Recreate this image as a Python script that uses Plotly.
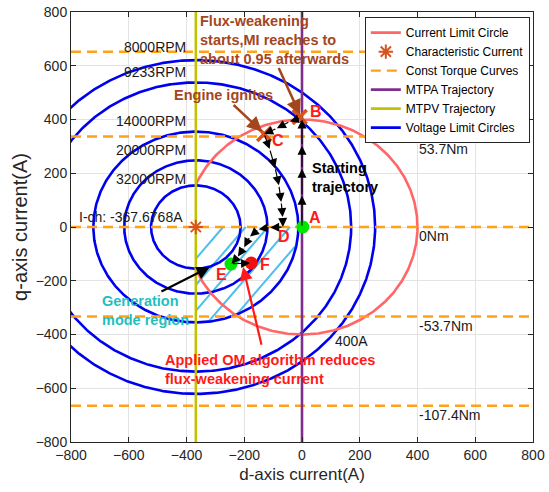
import numpy as np
import plotly.graph_objects as go

# ---------------- data ----------------
i_ch = -367.6768          # characteristic current (A)
i_max = 400               # current limit (A)

speed_labels = ["8000RPM", "9233RPM", "14000RPM", "20000RPM", "32000RPM"]
voltage_radii = [621, 538, 355, 248, 155]
speed_label_y = [668, 575, 396, 288, 179]

torque_iq = [652, 337, 0, -333, -665]
torque_labels = ["53.7Nm", "0Nm", "-53.7Nm", "-107.4Nm"]
torque_label_y = [291, -34, -370, -698]

# operating trajectory (id, iq) in A
start_id = [0, 0, 0, 0, 0]
start_iq = [0, 116, 217, 302, 400]
bc_id = [-5, -42, -87, -131]
bc_iq = [405, 393, 367, 346]
cd_id = [-131, -112, -93, -80, -72, -67, -66]
cd_iq = [346, 290, 220, 155, 93, 37, 0]
de_id = [-66, -110, -150, -180, -200, -222, -244]
de_iq = [0, -2, -8, -35, -75, -110, -137]
ef_id = [-244, -180]
ef_iq = [-137, -134]

pt_names = ["A", "B", "C", "D", "E", "F"]
pt_label_id = [45, 48, -83, -62, -280, -128]
pt_label_iq = [37, 429, 321, -34, -176, -138]
green_id = [3, -246]
green_iq = [0, -138]
red_id = [-176]
red_iq = [-134]
cross_id = [-8, -131]
cross_iq = [409, 346]

# ---------------- style ----------------
FONT = "Arial, Liberation Sans, sans-serif"
BLUE = "#0000F0"
PINK = "#FF6666"
ORANGE = "#FFA11A"
PURPLE = "#7E2F8E"
OLIVE = "#C2C200"
RUST = "#D95319"
BROWN = "#A3461E"
TEAL = "#1FBFBF"
RED = "#FF1A1A"
HATCH = "#4DBEEE"

fig = go.Figure()

# hatched generation-mode region: inside the 14000RPM circle, right of MTPV, iq<0
hatch_slope = 1.25
hatch_x0 = [-273, -195, -118, -42, 34]
r_gen = voltage_radii[2]
ys = np.linspace(-420, 0, 4001)
for c in hatch_x0:
    xs = c + ys / hatch_slope
    inside = (xs >= i_ch) & ((xs - i_ch) ** 2 + ys ** 2 <= r_gen ** 2)
    if inside.any():
        yy = ys[inside]
        xx = xs[inside]
        fig.add_trace(go.Scatter(x=[xx[0], xx[-1]], y=[yy[0], yy[-1]], mode="lines",
                                 line=dict(color=HATCH, width=2), showlegend=False,
                                 hoverinfo="skip"))

# voltage limit circles
th = np.linspace(0, 2 * np.pi, 721)
for k, r in enumerate(voltage_radii):
    fig.add_trace(go.Scatter(x=i_ch + r * np.cos(th), y=r * np.sin(th), mode="lines",
                             line=dict(color=BLUE, width=2.6),
                             name="Voltage Limit Circles", legendrank=6,
                             showlegend=(k == 0)))

# current limit circle (part right of the MTPV line)
a = np.arccos(i_ch / i_max)
tc = np.linspace(-a, a, 500)
fig.add_trace(go.Scatter(x=i_max * np.cos(tc), y=i_max * np.sin(tc), mode="lines",
                         line=dict(color=PINK, width=2.6),
                         name="Current Limit Circle", legendrank=1))

# constant torque curves
for k, iq in enumerate(torque_iq):
    fig.add_trace(go.Scatter(x=[-800, 800], y=[iq, iq], mode="lines",
                             line=dict(color=ORANGE, width=2.4, dash="10px,6px"),
                             name="Const Torque Curves", legendrank=3,
                             showlegend=(k == 0)))

# MTPA and MTPV trajectories
fig.add_trace(go.Scatter(x=[0, 0], y=[-800, 800], mode="lines",
                         line=dict(color=PURPLE, width=2.6),
                         name="MTPA Trajectory", legendrank=4))
fig.add_trace(go.Scatter(x=[i_ch, i_ch], y=[-800, 800], mode="lines",
                         line=dict(color=OLIVE, width=2.6),
                         name="MTPV Trajectory", legendrank=5))

# characteristic current
fig.add_trace(go.Scatter(x=[i_ch], y=[0], mode="markers",
                         marker=dict(symbol="asterisk-open", size=12, color=RUST,
                                     line=dict(color=RUST, width=2)),
                         name="Characteristic Current", legendrank=2))

# operating points
fig.add_trace(go.Scatter(x=cross_id, y=cross_iq, mode="markers",
                         marker=dict(symbol="x-thin-open", size=14, color=RUST,
                                     line=dict(color=RUST, width=3.5)),
                         showlegend=False))
fig.add_trace(go.Scatter(x=green_id, y=green_iq, mode="markers",
                         marker=dict(symbol="circle", size=13, color="#00E600"),
                         showlegend=False))
fig.add_trace(go.Scatter(x=red_id, y=red_iq, mode="markers",
                         marker=dict(symbol="circle", size=13, color="#F01010"),
                         showlegend=False))


def arrow_path(xs, ys, color="black", width=1.2, size=1.5):
    for i in range(len(xs) - 1):
        fig.add_annotation(x=xs[i + 1], y=ys[i + 1], ax=xs[i], ay=ys[i],
                           xref="x", yref="y", axref="x", ayref="y", text="",
                           showarrow=True, arrowhead=2, arrowsize=size,
                           arrowwidth=width, arrowcolor=color, standoff=0)


arrow_path(start_id, start_iq)
arrow_path(bc_id, bc_iq)
arrow_path(cd_id, cd_iq)
arrow_path(de_id, de_iq)
arrow_path(ef_id, ef_iq)

# point letters
for n, x, y in zip(pt_names, pt_label_id, pt_label_iq):
    fig.add_annotation(x=x, y=y, text=f"<b>{n}</b>", showarrow=False,
                       font=dict(family=FONT, size=16, color=RED))

# speed labels
for t, y in zip(speed_labels, speed_label_y):
    fig.add_annotation(x=-395, y=y, text=t, showarrow=False, xanchor="right",
                       font=dict(family=FONT, size=14, color="#1a1a1a"))

# torque labels
for t, y in zip(torque_labels, torque_label_y):
    fig.add_annotation(x=398, y=y, text=t, showarrow=False, xanchor="left",
                       font=dict(family=FONT, size=14, color="#1a1a1a"))

fig.add_annotation(x=107, y=-426, text="400A", showarrow=False, xanchor="left",
                   font=dict(family=FONT, size=14, color="#1a1a1a"))
fig.add_annotation(x=-779, y=37, text=f"I-ch: {i_ch}A", showarrow=False,
                   xanchor="left", font=dict(family=FONT, size=14, color="#1a1a1a"))

# callouts
fig.add_annotation(x=-360, y=694, xanchor="left", showarrow=False, align="left",
                   text="<b>Flux-weakening<br>starts,MI reaches to<br>about 0.95 afterwards</b>",
                   font=dict(family=FONT, size=14.5, color=BROWN))
fig.add_annotation(x=-7, y=418, ax=-83, ay=597, xref="x", yref="y", axref="x",
                   ayref="y", text="", showarrow=True, arrowhead=2, arrowsize=1.2,
                   arrowwidth=2.5, arrowcolor=BROWN, standoff=0)
fig.add_annotation(x=-450, y=493, xanchor="left", showarrow=False,
                   text="<b>Engine ignites</b>",
                   font=dict(family=FONT, size=14.5, color=BROWN))
fig.add_annotation(x=-138, y=355, ax=-242, ay=459, xref="x", yref="y", axref="x",
                   ayref="y", text="", showarrow=True, arrowhead=2, arrowsize=1.2,
                   arrowwidth=2.5, arrowcolor=BROWN, standoff=0)
fig.add_annotation(x=28, y=185, xanchor="left", showarrow=False, align="left",
                   text="<b>Starting<br>trajectory</b>",
                   font=dict(family=FONT, size=14.5, color="black"))
fig.add_annotation(x=-700, y=-312, xanchor="left", showarrow=False, align="left",
                   text="<b>Generation<br>mode region</b>",
                   font=dict(family=FONT, size=14.5, color=TEAL))
fig.add_annotation(x=-319, y=-149, ax=-492, ay=-243, xref="x", yref="y", axref="x",
                   ayref="y", text="", showarrow=True, arrowhead=2, arrowsize=1.2,
                   arrowwidth=2.2, arrowcolor="black", standoff=0)
fig.add_annotation(x=-481, y=-530, xanchor="left", showarrow=False, align="left",
                   text="<b>Applied OM algorithm reduces<br>flux-weakening current</b>",
                   font=dict(family=FONT, size=14.5, color=RED))
fig.add_annotation(x=-204, y=-149, ax=-139, ay=-444, xref="x", yref="y", axref="x",
                   ayref="y", text="", showarrow=True, arrowhead=2, arrowsize=1.2,
                   arrowwidth=2.2, arrowcolor=RED, standoff=0)

axis_common = dict(range=[-800, 800], dtick=200, showgrid=True, gridcolor="#E3E3E3",
                   gridwidth=1, zeroline=False, showline=True, linecolor="#262626",
                   linewidth=1, mirror="ticks", ticks="inside", ticklen=5,
                   tickcolor="#262626", automargin=False,
                   tickfont=dict(family=FONT, size=14, color="#262626"))

fig.update_layout(
    width=549, height=492,
    margin=dict(l=71, r=16, t=12, b=50, autoexpand=False),
    paper_bgcolor="white", plot_bgcolor="white",
    xaxis=dict(**axis_common,
               title=dict(text="d-axis current(A)", standoff=6,
                          font=dict(family=FONT, size=17, color="#262626"))),
    yaxis=dict(**axis_common,
               title=dict(text="q-axis current(A)", standoff=2,
                          font=dict(family=FONT, size=20, color="#262626"))),
    legend=dict(x=0.636, y=0.988, xanchor="left", yanchor="top",
                bgcolor="white", bordercolor="#262626", borderwidth=1,
                font=dict(family=FONT, size=12, color="black"),
                tracegroupgap=0, itemwidth=30),
    showlegend=True,
)

fig.write_html("out.html")
